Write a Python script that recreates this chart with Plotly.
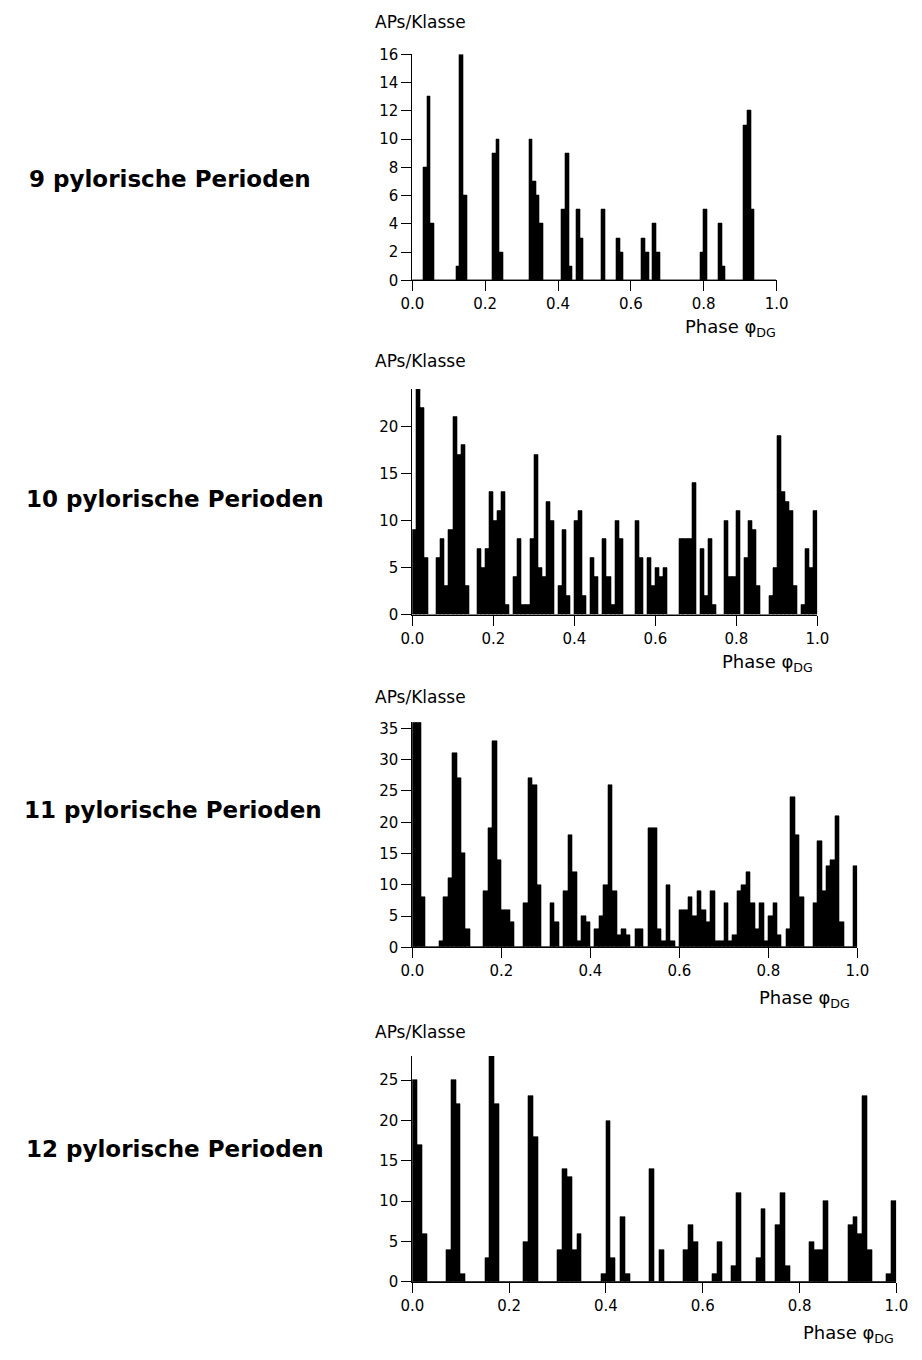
import plotly.graph_objects as go

W, H = 922, 1360

# Histogram counts (APs per class), 100 classes of width 0.01 over phase 0..1
counts_9 = [0, 0, 0, 8, 13, 4, 0, 0, 0, 0,
            0, 0, 1, 16, 6, 0, 0, 0, 0, 0,
            0, 0, 9, 10, 2, 0, 0, 0, 0, 0,
            0, 0, 10, 7, 6, 4, 0, 0, 0, 0,
            0, 5, 9, 1, 0, 5, 3, 0, 0, 0,
            0, 0, 5, 0, 0, 0, 3, 2, 0, 0,
            0, 0, 0, 3, 2, 0, 4, 2, 0, 0,
            0, 0, 0, 0, 0, 0, 0, 0, 0, 2,
            5, 0, 0, 0, 4, 1, 0, 0, 0, 0,
            0, 11, 12, 5, 0, 0, 0, 0, 0, 0]

counts_10 = [9, 24, 22, 6, 0, 0, 6, 8, 3, 9,
             21, 17, 18, 3, 0, 0, 7, 5, 7, 13,
             10, 11, 13, 1, 0, 4, 8, 1, 1, 8,
             17, 5, 4, 12, 10, 0, 3, 9, 2, 0,
             10, 11, 2, 0, 6, 4, 0, 8, 4, 1,
             10, 8, 0, 0, 0, 10, 6, 0, 6, 3,
             5, 4, 5, 0, 0, 0, 8, 8, 8, 14,
             0, 7, 2, 8, 1, 0, 0, 10, 4, 4,
             11, 0, 6, 10, 9, 3, 0, 0, 2, 5,
             19, 13, 12, 11, 3, 0, 1, 7, 5, 11]

counts_11 = [36, 36, 8, 0, 0, 0, 1, 8, 11, 31,
             27, 15, 3, 0, 0, 0, 9, 19, 33, 14,
             6, 6, 4, 0, 0, 7, 27, 26, 10, 0,
             0, 7, 4, 0, 9, 18, 12, 1, 5, 4,
             0, 3, 5, 10, 26, 9, 2, 3, 2, 0,
             3, 3, 0, 19, 19, 3, 1, 10, 1, 0,
             6, 6, 8, 5, 9, 6, 4, 9, 1, 1,
             7, 1, 2, 9, 10, 12, 7, 3, 7, 1,
             5, 7, 2, 0, 3, 24, 18, 8, 0, 0,
             7, 17, 9, 13, 14, 21, 4, 0, 0, 13]

counts_12 = [25, 17, 6, 0, 0, 0, 0, 4, 25, 22,
             1, 0, 0, 0, 0, 3, 28, 22, 0, 0,
             0, 0, 0, 5, 23, 18, 0, 0, 0, 0,
             4, 14, 13, 4, 6, 0, 0, 0, 0, 1,
             20, 3, 0, 8, 1, 0, 0, 0, 0, 14,
             0, 4, 0, 0, 0, 0, 4, 7, 5, 0,
             0, 0, 1, 5, 0, 0, 2, 11, 0, 0,
             0, 3, 9, 0, 0, 7, 11, 2, 0, 0,
             0, 0, 5, 4, 4, 10, 0, 0, 0, 0,
             7, 8, 6, 23, 4, 0, 0, 0, 1, 10]

bin_width = 0.01
bin_centers = [round(i * bin_width + bin_width / 2, 4) for i in range(100)]

panel_titles = ["9 pylorische Perioden", "10 pylorische Perioden",
                "11 pylorische Perioden", "12 pylorische Perioden"]
y_tops = [16, 24, 36, 28]
y_dticks = [2, 5, 5, 5]
x_ticks = [0.0, 0.2, 0.4, 0.6, 0.8, 1.0]
y_label = "APs/Klasse"
x_label = "Phase φ<sub>DG</sub>"

all_counts = [counts_9, counts_10, counts_11, counts_12]

# layout geometry (pixels)
x_left = 411
x_rights = [785, 827, 868, 908]
y_bottoms = [275, 613.7, 951, 1290]
y_topspx = [46, 385, 722.7, 1061]
ylab_y = [13, 357, 697, 1037]
title_y = [172, 497, 812, 1155]
title_x = [162, 167, 165, 167]
phase_right = [786, 824, 862, 908]
phase_y = [323, 663, 1003, 1343]

FONT = "DejaVu Sans"

fig = go.Figure()
for k in range(4):
    sfx = "" if k == 0 else str(k + 1)
    fig.add_trace(go.Bar(
        x=bin_centers, y=all_counts[k], width=bin_width,
        marker=dict(color="black", line=dict(color="black", width=0.6)),
        xaxis="x" + sfx, yaxis="y" + sfx, showlegend=False,
        hoverinfo="x+y",
    ))
    fig.layout["xaxis" + sfx] = dict(
        domain=[x_left / W, x_rights[k] / W], anchor="y" + sfx,
        range=[0, 1], tickvals=x_ticks, tickformat=".1f",
        showline=True, linecolor="black", linewidth=1,
        ticks="outside", ticklen=10, tickwidth=1, tickcolor="black",
        showgrid=False, zeroline=False,
        tickfont=dict(family=FONT, size=15, color="black"),
    )
    fig.layout["yaxis" + sfx] = dict(
        domain=[1 - y_bottoms[k] / H, 1 - y_topspx[k] / H], anchor="x" + sfx,
        range=[0, y_tops[k]], dtick=y_dticks[k], tick0=0,
        showline=True, linecolor="black", linewidth=1,
        ticks="outside", ticklen=10, tickwidth=1, tickcolor="black",
        showgrid=False, zeroline=False,
        tickfont=dict(family=FONT, size=15, color="black"),
    )

annotations = []
for k in range(4):
    annotations.append(dict(
        text=y_label, x=371 / W, y=1 - ylab_y[k] / H, xref="paper", yref="paper",
        xanchor="left", yanchor="middle", showarrow=False,
        font=dict(family=FONT, size=17, color="black")))
    annotations.append(dict(
        text="<b>" + panel_titles[k] + "</b>", x=title_x[k] / W, y=1 - title_y[k] / H,
        xref="paper", yref="paper", xanchor="center", yanchor="middle",
        showarrow=False, font=dict(family=FONT, size=23, color="black")))
    annotations.append(dict(
        text=x_label, x=phase_right[k] / W, y=1 - phase_y[k] / H,
        xref="paper", yref="paper", xanchor="right", yanchor="middle",
        showarrow=False, font=dict(family=FONT, size=18, color="black")))

fig.update_layout(
    width=W, height=H, margin=dict(l=0, r=0, t=0, b=0),
    paper_bgcolor="white", plot_bgcolor="white",
    bargap=0, annotations=annotations, showlegend=False,
)

fig.write_html(
    "out.html",
    post_script="document.body.style.margin='0';document.body.style.overflow='hidden';",
)
